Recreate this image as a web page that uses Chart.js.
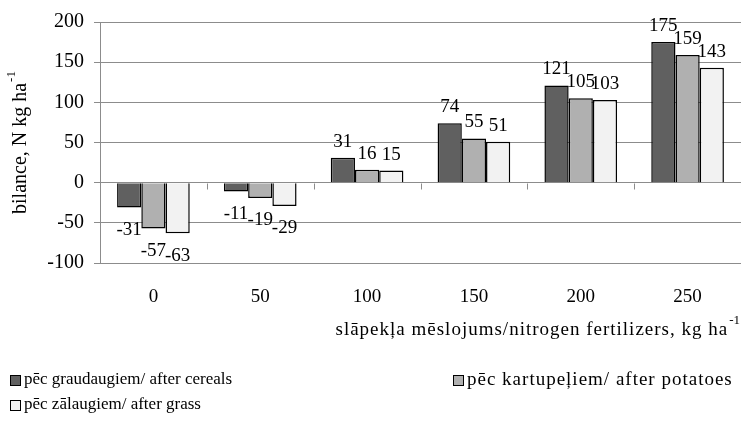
<!DOCTYPE html>
<html>
<head>
<meta charset="utf-8">
<script src="https://cdn.jsdelivr.net/npm/chart.js@4.4.1/dist/chart.umd.min.js"></script>
<style>
html,body{margin:0;padding:0;background:#fff;}
#wrap{width:742px;height:432px;position:relative;}
</style>
</head>
<body>
<div id="wrap"><canvas id="c" width="742" height="432"></canvas></div>
<script>
const categories = ['0', '50', '100', '150', '200', '250'];
const cereals = [-31, -11, 31, 74, 121, 175];
const potatoes = [-57, -19, 16, 55, 105, 159];
const grass = [-63, -29, 15, 51, 103, 143];
const seriesNames = ['pēc graudaugiem/ after cereals', 'pēc kartupeļiem/ after potatoes', 'pēc zālaugiem/ after grass'];
const yTitle = 'bilance, N kg ha';
const xTitle = 'slāpekļa mēslojums/nitrogen fertilizers, kg ha';
const unitSup = '-1';

const FONT = "'Liberation Serif', 'Times New Roman', serif";
const FS = 19;
const FS_TICK = 20;

const colors = ['#606060', '#b0b0b0', '#f2f2f2'];

// legend layout (style only)
const legendStyle = [
  { x: 10, y: 380, size: 17, spacing: 0 },
  { x: 453, y: 380, size: 19, spacing: 1 },
  { x: 10, y: 405, size: 17, spacing: 0 }
];

const customPlugin = {
  id: 'custom',
  afterDatasetsDraw(chart) {
    const ctx = chart.ctx;
    ctx.save();
    ctx.font = FS + 'px ' + FONT;
    ctx.fillStyle = '#000';
    ctx.textAlign = 'center';
    chart.data.datasets.forEach((ds, i) => {
      const meta = chart.getDatasetMeta(i);
      meta.data.forEach((bar, j) => {
        const v = ds.data[j];
        if (v >= 0) {
          ctx.textBaseline = 'alphabetic';
          ctx.fillText(String(v), bar.x, bar.y - 11);
        } else {
          ctx.textBaseline = 'top';
          ctx.fillText(String(v), bar.x, bar.y + 13);
        }
      });
    });
    ctx.restore();
  },
  afterDraw(chart) {
    const ctx = chart.ctx;
    const ys = chart.scales.y;
    const area = chart.chartArea;
    ctx.save();
    const y0 = Math.round(ys.getPixelForValue(0)) + 0.5;
    ctx.strokeStyle = '#8c8c8c';
    ctx.lineWidth = 1;
    const n = categories.length;
    const w = (area.right - area.left) / n;
    for (let k = 1; k < n; k++) {
      const x = Math.round(area.left + w * k) + 0.5;
      ctx.beginPath();
      ctx.moveTo(x, y0);
      ctx.lineTo(x, y0 + 6);
      ctx.stroke();
    }
    ctx.fillStyle = '#000';
    const supFont = '13px ' + FONT;
    ctx.font = supFont;
    const supW = ctx.measureText(unitSup).width;
    // x title
    ctx.font = FS + 'px ' + FONT;
    ctx.letterSpacing = '1px';
    ctx.textBaseline = 'middle';
    ctx.textAlign = 'left';
    const xtW = ctx.measureText(xTitle).width;
    const xtRight = 740;
    const xtY = 330;
    ctx.fillText(xTitle, xtRight - supW - xtW - 1, xtY);
    ctx.letterSpacing = '0px';
    ctx.font = supFont;
    ctx.fillText(unitSup, xtRight - supW, xtY - 9);
    // y title rotated
    ctx.save();
    ctx.translate(21, (area.top + area.bottom) / 2);
    ctx.rotate(-Math.PI / 2);
    ctx.font = '20px ' + FONT;
    const ytW = ctx.measureText(yTitle).width;
    const total = ytW + 1 + supW;
    ctx.textAlign = 'left';
    ctx.textBaseline = 'middle';
    ctx.fillText(yTitle, -total / 2, 0);
    ctx.font = supFont;
    ctx.fillText(unitSup, -total / 2 + ytW + 1, -9);
    ctx.restore();
    // legend
    ctx.textAlign = 'left';
    ctx.textBaseline = 'middle';
    chart.data.datasets.forEach((ds, i) => {
      const st = legendStyle[i];
      const lx = st.x, ly = st.y;
      ctx.fillStyle = ds.backgroundColor;
      ctx.fillRect(lx, ly - 5, 10, 10);
      ctx.strokeStyle = '#000';
      ctx.lineWidth = 1;
      ctx.strokeRect(lx + 0.5, ly - 4.5, 10, 10);
      ctx.fillStyle = '#000';
      ctx.font = st.size + 'px ' + FONT;
      ctx.letterSpacing = st.spacing + 'px';
      ctx.fillText(ds.label, lx + 14, ly);
      ctx.letterSpacing = '0px';
    });
    ctx.restore();
  }
};

new Chart(document.getElementById('c'), {
  type: 'bar',
  data: {
    labels: categories,
    datasets: [
      { label: seriesNames[0], data: cereals, backgroundColor: colors[0] },
      { label: seriesNames[1], data: potatoes, backgroundColor: colors[1] },
      { label: seriesNames[2], data: grass, backgroundColor: colors[2] }
    ]
  },
  options: {
    responsive: false,
    animation: false,
    devicePixelRatio: 1,
    layout: { padding: { top: 20, right: 1, left: 0, bottom: 0 } },
    datasets: {
      bar: {
        borderColor: '#000',
        borderWidth: 1.5,
        categoryPercentage: 0.68,
        barPercentage: 1.0
      }
    },
    plugins: {
      legend: { display: false },
      tooltip: { enabled: false },
      title: { display: false }
    },
    scales: {
      x: {
        grid: { display: false, drawTicks: false },
        border: { display: false },
        ticks: { font: { family: FONT, size: FS }, color: '#000', padding: 23, maxRotation: 0 },
        afterFit(s) { s.height = 169; }
      },
      y: {
        min: -100,
        max: 200,
        ticks: { stepSize: 50, font: { family: FONT, size: FS_TICK }, color: '#000', padding: 10 },
        grid: { color: '#8c8c8c', lineWidth: 1, tickLength: 6 },
        border: { display: true, color: '#8c8c8c', width: 1 },
        afterFit(s) { s.width = 100; }
      }
    }
  },
  plugins: [customPlugin]
});
</script>
</body>
</html>
